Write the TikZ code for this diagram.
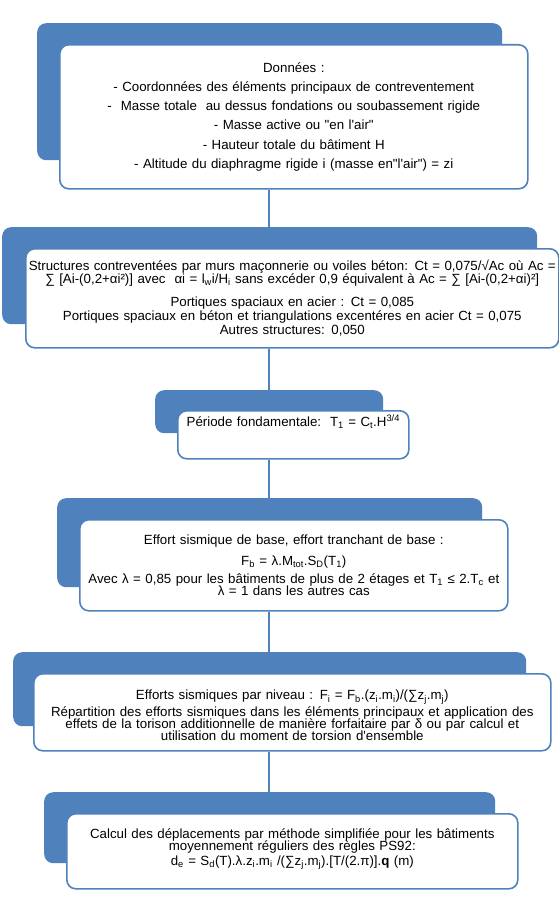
\documentclass[tikz,border=0pt]{standalone}
\usepackage{fontspec}
\setmainfont{Liberation Sans}[Ligatures=TeXOff]
\definecolor{ppblue}{HTML}{4F81BD}
\tikzset{
  bluebox/.style={fill=ppblue, draw=none, rounded corners=9pt, anchor=north west, inner sep=0pt},
  whitebox/.style={fill=white, draw=ppblue, line width=1.6pt, rounded corners=9pt, anchor=north west, inner sep=0pt, align=center},
  link/.style={draw=ppblue, line width=2.6pt}
}
\newcommand{\boxfont}[1]{\fontsize{13.3}{#1}\selectfont\lineskiplimit=-30pt\relax}
\begin{document}
\begin{tikzpicture}[x=1pt,y=-1pt]
\useasboundingbox (0,0) rectangle (559,907);
% column of connectors
\coordinate (cx) at (269,0);
% block 1
\node[bluebox, minimum width=465pt, minimum height=137pt] (b1) at (37,23) {};
\node[whitebox, minimum height=144pt, text width=468pt, font=\boxfont{19.2}] (w1) at (59,44) {%
Données :\\
- Coordonnées des éléments principaux de contreventement\\
-\ \ Masse totale\ \ au dessus fondations ou soubassement rigide\\
- Masse active ou "en l'air"\\
- Hauteur totale du bâtiment H\\
- Altitude du diaphragme rigide i (masse en"l'air") = zi};
% block 2
\node[bluebox, minimum width=535pt, minimum height=97pt] (b2) at (2,227) {};
\node[whitebox, minimum height=99pt, text width=533pt, font=\boxfont{12.5}] (w2) at (25,248) {%
Structures contreventées par murs maçonnerie ou voiles béton: Ct = 0,075/√Ac où Ac =\\
∑ [Ai-(0,2+αi²)] avec\ \ αi = l\textsubscript{w}i/H\textsubscript{i} sans excéder 0,9 équivalent à Ac = ∑ [Ai-(0,2+αi)²]\\[10.5pt]
Portiques spaciaux en acier : Ct = 0,085\\[1.5pt]
Portiques spaciaux en béton et triangulations excentéres en acier Ct = 0,075\\[1.5pt]
Autres structures: 0,050};
% block 3
\node[bluebox, minimum width=228pt, minimum height=43pt] (b3) at (155,390) {};
\node[whitebox, minimum height=48pt, text width=231pt, font=\boxfont{22}] (w3) at (177,410) {%
Période fondamentale:\ \ T\textsubscript{1} = C\textsubscript{t}.H\textsuperscript{3/4}\\ \strut};
% block 4
\node[bluebox, minimum width=425pt, minimum height=89pt] (b4) at (57,498) {};
\node[whitebox, minimum height=91pt, text width=428pt, font=\boxfont{12}] (w4) at (79,519) {%
Effort sismique de base, effort tranchant de base :\\[9pt]
F\textsubscript{b} = λ.M\textsubscript{tot}.S\textsubscript{D}(T\textsubscript{1})\\[6pt]
Avec λ = 0,85 pour les bâtiments de plus de 2 étages et T\textsubscript{1} ≤ 2.T\textsubscript{c} et\\
λ = 1 dans les autres cas};
% block 5
\node[bluebox, minimum width=513pt, minimum height=74pt] (b5) at (13,652) {};
\node[whitebox, minimum height=77pt, text width=517pt, font=\boxfont{12}] (w5) at (33,673) {%
\mbox{}\\[4pt]
Efforts sismiques par niveau : F\textsubscript{i} = F\textsubscript{b}.(z\textsubscript{i}.m\textsubscript{i})/(∑z\textsubscript{j}.m\textsubscript{j})\\[4.5pt]
Répartition des efforts sismiques dans les éléments principaux et application des\\
effets de la torison additionnelle de manière forfaitaire par δ ou par calcul et\\
utilisation du moment de torsion d'ensemble};
% block 6
\node[bluebox, minimum width=451pt, minimum height=71pt] (b6) at (44,792) {};
\node[whitebox, minimum height=75pt, text width=451pt, font=\boxfont{12}] (w6) at (66,813) {%
Calcul des déplacements par méthode simplifiée pour les bâtiments\\
moyennement réguliers des règles PS92:\\[3pt]
d\textsubscript{e} = S\textsubscript{d}(T).λ.z\textsubscript{i}.m\textsubscript{i} /(∑z\textsubscript{j}.m\textsubscript{j}).[T/(2.π)].\textbf{q} (m)\\[-3pt]\mbox{}};
% connectors
\draw[link] (w1.south -| cx) -- (b2.north -| cx);
\draw[link] (w2.south -| cx) -- (b3.north -| cx);
\draw[link] (w3.south -| cx) -- (b4.north -| cx);
\draw[link] (w4.south -| cx) -- (b5.north -| cx);
\draw[link] (w5.south -| cx) -- (b6.north -| cx);
\end{tikzpicture}
\end{document}
